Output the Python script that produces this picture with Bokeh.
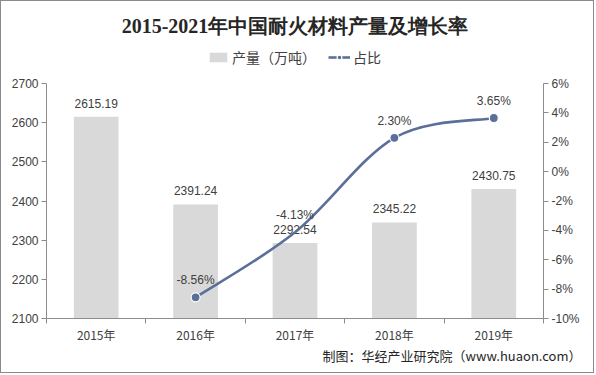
from bokeh.plotting import figure
from bokeh.models import (ColumnDataSource, Range1d, LinearAxis, FixedTicker, PrintfTickFormatter,
                          Legend, LegendItem, Title, CDSView, IndexFilter)
from bokeh.core.properties import value
from bokeh.embed import file_html
from bokeh.resources import INLINE

years = ["2015年", "2016年", "2017年", "2018年", "2019年"]
output = [2615.19, 2391.24, 2292.54, 2345.22, 2430.75]
share_years = ["2016年", "2017年", "2018年", "2019年"]
share = [-8.56, -4.13, 2.30, 3.65]
left_ticks = [2100, 2200, 2300, 2400, 2500, 2600, 2700]
right_ticks = [-10, -8, -6, -4, -2, 0, 2, 4, 6]

title_text = "2015-2021年中国耐火材料产量及增长率"
legend_bar = "产量（万吨）"
legend_line = "占比"
footer = "制图：华经产业研究院（www.huaon.com）"

FONT = "Liberation Sans"
CJK = "Noto Sans CJK SC"
TXT = "#404040"
AX = "#8c8c8c"
LINE = "#5b6f9b"

# layout (canvas pixels)
FRAME_TOP, FRAME_BOTTOM, AXIS_TOP = 40, 317, 82
W, H = 594, 373
axis_px = FRAME_BOTTOM - AXIS_TOP
frame_px = FRAME_BOTTOM - FRAME_TOP
ext = frame_px / axis_px

xs = list(range(len(years)))
sx = [years.index(y) for y in share_years]

lo, hi = left_ticks[0], left_ticks[-1]
rlo, rhi = right_ticks[0], right_ticks[-1]

p = figure(width=W, height=H, output_backend="svg", toolbar_location=None,
           x_range=Range1d(-0.5, len(years) - 0.5),
           y_range=Range1d(lo, lo + (hi - lo) * ext),
           min_border_left=45, min_border_right=52, min_border_top=FRAME_TOP,
           min_border_bottom=H - FRAME_BOTTOM)
p.styles = {"border": "1px solid #8a8a8a"}
p.extra_y_ranges = {"pct": Range1d(rlo, rlo + (rhi - rlo) * ext)}
p.grid.visible = False
p.outline_line_color = None
p.background_fill_color = "white"
p.border_fill_color = "white"

bar_src = ColumnDataSource(dict(x=xs, top=output, lab=[f"{v:.2f}" for v in output]))
bars = p.vbar(x="x", top="top", bottom=lo, width=0.45, source=bar_src,
              fill_color="#d9d9d9", line_color=None)
p.text(x="x", y="top", text="lab", source=bar_src, text_align="center", text_baseline="bottom",
       y_offset=-9, text_font_size="12px", text_font=value(FONT), text_color=TXT)

# smooth (Catmull-Rom) curve through the share points as bezier segments
n = len(share)
ext_x = [sx[0]] + sx + [sx[-1]]
ext_y = [share[0]] + share + [share[-1]]
seg = dict(x0=[], y0=[], x1=[], y1=[], cx0=[], cy0=[], cx1=[], cy1=[])
for i in range(n - 1):
    p0x, p0y = ext_x[i], ext_y[i]
    p1x, p1y = ext_x[i + 1], ext_y[i + 1]
    p2x, p2y = ext_x[i + 2], ext_y[i + 2]
    p3x, p3y = ext_x[i + 3], ext_y[i + 3]
    seg["x0"].append(p1x); seg["y0"].append(p1y)
    seg["x1"].append(p2x); seg["y1"].append(p2y)
    seg["cx0"].append(p1x + (p2x - p0x) / 6); seg["cy0"].append(p1y + (p2y - p0y) / 6)
    seg["cx1"].append(p2x - (p3x - p1x) / 6); seg["cy1"].append(p2y - (p3y - p1y) / 6)
curve = p.bezier(source=ColumnDataSource(seg), x0="x0", y0="y0", x1="x1", y1="y1",
                 cx0="cx0", cy0="cy0", cx1="cx1", cy1="cy1",
                 line_color=LINE, line_width=2.6, y_range_name="pct")

pt_src = ColumnDataSource(dict(x=sx, y=share, lab=[f"{v:.2f}%" for v in share]))
shown = [i for i, y in enumerate(share_years) if y != "2017年"]
pts = p.scatter(x="x", y="y", source=pt_src, view=CDSView(filter=IndexFilter(shown)),
                size=9, fill_color=LINE, line_color="white", line_width=1.2,
                y_range_name="pct")
p.text(x="x", y="y", text="lab", source=pt_src, y_range_name="pct", text_align="center",
       text_baseline="bottom", y_offset=-10, text_font_size="12px", text_font=value(FONT),
       text_color=TXT)

# axes
p.xaxis.ticker = FixedTicker(ticks=xs, minor_ticks=[x - 0.5 for x in xs] + [xs[-1] + 0.5])
p.xaxis.major_label_overrides = {i: y for i, y in enumerate(years)}
p.xaxis.major_tick_out = 0
p.xaxis.major_tick_in = 0
p.xaxis.minor_tick_out = 5
p.xaxis.minor_tick_in = 0
p.xaxis.minor_tick_line_color = AX
p.xaxis.axis_line_color = AX
p.xaxis.major_label_text_font_size = "12px"
p.xaxis.major_label_text_font = CJK
p.xaxis.major_label_text_color = TXT
p.xaxis.major_label_standoff = 2

p.yaxis.ticker = FixedTicker(ticks=left_ticks)
p.yaxis.bounds = (lo, hi)
p.yaxis.axis_line_color = AX
p.yaxis.major_tick_line_color = AX
p.yaxis.major_tick_out = 5
p.yaxis.major_tick_in = 0
p.yaxis.minor_tick_line_color = None
p.yaxis.major_label_text_font_size = "12px"
p.yaxis.major_label_text_font = FONT
p.yaxis.major_label_text_color = TXT
p.yaxis.major_label_standoff = 3

ax2 = LinearAxis(y_range_name="pct", ticker=FixedTicker(ticks=right_ticks),
                 formatter=PrintfTickFormatter(format="%d%%"), bounds=(rlo, rhi))
ax2.axis_line_color = AX
ax2.major_tick_line_color = AX
ax2.major_tick_out = 5
ax2.major_tick_in = 0
ax2.minor_tick_line_color = None
ax2.major_label_text_font_size = "12px"
ax2.major_label_text_font = FONT
ax2.major_label_text_color = TXT
ax2.major_label_standoff = 3
p.add_layout(ax2, "right")

# legend (inside the frame's upper strip)
legend = Legend(items=[LegendItem(label=legend_bar, renderers=[bars]),
                       LegendItem(label=legend_line, renderers=[curve, pts])],
                orientation="horizontal", location=(161, FRAME_BOTTOM - 66),
                glyph_width=22, glyph_height=12, label_standoff=3, spacing=12,
                padding=0, margin=0, border_line_color=None, background_fill_alpha=0,
                label_text_font=CJK, label_text_font_size="14px", label_text_color=TXT,
                label_height=16)
p.add_layout(legend, "center")

# title
p.title = Title(text=title_text, align="center", text_font="Liberation Serif",
                text_font_style="bold", text_font_size="20px", text_color="#262626",
                standoff=9)

# footer
p.add_layout(Title(text=footer, align="right", text_font=CJK, text_font_style="normal",
                   text_font_size="13px", text_color="#262626", standoff=-3, offset=-38),
             "below")

open("out.html", "w").write(file_html(p, INLINE))
